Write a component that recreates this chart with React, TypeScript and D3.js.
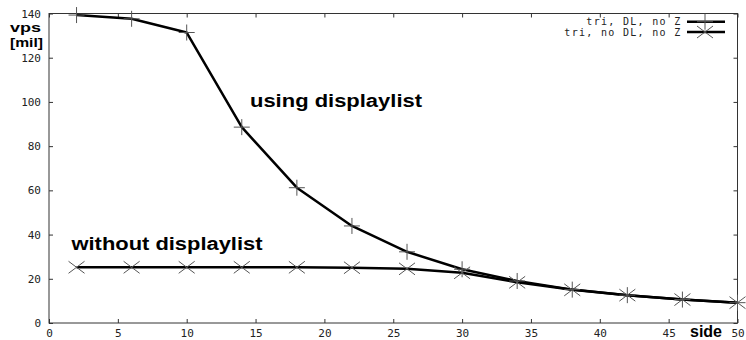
import React, { useEffect, useRef } from 'react';
import * as d3 from 'd3';

// side lengths (x) and vertices per second in millions (y)
const sides = [2, 6, 10, 14, 18, 22, 26, 30, 34, 38, 42, 46, 50];
const withDL = [139.3, 137.6, 131.4, 88.6, 61.2, 43.9, 32.2, 24.3, 19.0, 15.1, 12.6, 10.6, 9.2];
const withoutDL = [25.2, 25.2, 25.2, 25.2, 25.2, 25.0, 24.5, 22.7, 18.4, 15.0, 12.6, 10.6, 9.2];

const xTicks = [0, 5, 10, 15, 20, 25, 30, 35, 40, 45, 50];
const yTicks = [0, 20, 40, 60, 80, 100, 120, 140];
const seriesNames = ['tri, DL, no Z', 'tri, no DL, no Z'];

const W = 746;
const H = 340;

const App = () => {
  const ref = useRef<SVGSVGElement>(null);

  useEffect(() => {
    const svg = d3.select(ref.current);
    svg.selectAll('*').remove();

    const left = 49, right = 737.5, top = 13.5, bottom = 323;
    const x = d3.scaleLinear().domain([0, 50]).range([left, right]);
    const y = d3.scaleLinear().domain([0, 140]).range([bottom, top]);
    const mono = '"DejaVu Sans Mono", monospace';
    const sans = '"Liberation Sans", Arial, sans-serif';

    svg.append('rect').attr('width', W).attr('height', H).attr('fill', '#fff');

    const styleAxis = (g: any) => {
      g.select('.domain').remove();
      g.selectAll('line').attr('stroke', '#333');
      g.selectAll('text').attr('font-family', mono).attr('font-size', 11).attr('fill', '#222');
    };

    svg.append('g')
      .attr('transform', `translate(0,${bottom})`)
      .call(d3.axisBottom(x).tickValues(xTicks).tickSizeInner(-4).tickSizeOuter(0).tickPadding(6))
      .call(styleAxis);
    svg.append('g')
      .attr('transform', `translate(0,${top})`)
      .call(d3.axisTop(x).tickValues(xTicks).tickSizeInner(-4).tickSizeOuter(0).tickFormat(() => ''))
      .call(styleAxis);
    svg.append('g')
      .attr('transform', `translate(${left},0)`)
      .call(d3.axisLeft(y).tickValues(yTicks).tickSizeInner(-4).tickSizeOuter(0).tickPadding(8))
      .call(styleAxis);
    svg.append('g')
      .attr('transform', `translate(${right},0)`)
      .call(d3.axisRight(y).tickValues(yTicks).tickSizeInner(-4).tickSizeOuter(0).tickFormat(() => ''))
      .call(styleAxis);

    svg.append('rect')
      .attr('x', left).attr('y', top)
      .attr('width', right - left).attr('height', bottom - top)
      .attr('fill', 'none').attr('stroke', '#333').attr('stroke-width', 1);

    const line = d3.line<number>()
      .x((_, i) => x(sides[i]))
      .y(d => y(d));

    [withDL, withoutDL].forEach(vals => {
      svg.append('path')
        .datum(vals)
        .attr('fill', 'none')
        .attr('stroke', '#000')
        .attr('stroke-width', 2.5)
        .attr('stroke-linejoin', 'round')
        .attr('d', line);
    });

    const plus = (g: any, cx: number, cy: number) => {
      g.append('path')
        .attr('d', `M${cx - 8},${cy}H${cx + 8}M${cx},${cy - 8}V${cy + 8}`)
        .attr('stroke', '#555').attr('stroke-width', 1).attr('fill', 'none');
    };
    const cross = (g: any, cx: number, cy: number) => {
      g.append('path')
        .attr('d', `M${cx - 8},${cy - 6}L${cx + 8},${cy + 6}M${cx - 8},${cy + 6}L${cx + 8},${cy - 6}`)
        .attr('stroke', '#555').attr('stroke-width', 1).attr('fill', 'none');
    };

    const marks = svg.append('g');
    withDL.forEach((v, i) => plus(marks, x(sides[i]), y(v)));
    withoutDL.forEach((v, i) => cross(marks, x(sides[i]), y(v)));

    // legend
    const legend = svg.append('g');
    seriesNames.forEach((name, i) => {
      const ly = 21.7 + i * 10.3;
      legend.append('text')
        .attr('x', 681.5).attr('y', ly).attr('dy', '0.36em')
        .attr('text-anchor', 'end')
        .attr('font-family', mono).attr('font-size', 10)
        .attr('letter-spacing', 1.3).attr('fill', '#222')
        .text(name);
      legend.append('line')
        .attr('x1', 687).attr('x2', 725).attr('y1', ly).attr('y2', ly)
        .attr('stroke', '#000').attr('stroke-width', 2.5);
      if (i === 0) plus(legend, 705, ly);
      else cross(legend, 705, ly);
    });

    const label = (txt: string, lx: number, ly: number, size: number, len: number) => {
      svg.append('text')
        .attr('x', lx).attr('y', ly)
        .attr('font-family', sans).attr('font-weight', 'bold')
        .attr('font-size', size).attr('fill', '#000')
        .attr('textLength', len).attr('lengthAdjust', 'spacingAndGlyphs')
        .text(txt);
    };
    label('vps', 10, 32, 12.5, 31);
    label('[mil]', 10, 46.5, 13.5, 33);
    label('using displaylist', 250, 107, 18, 172);
    label('without displaylist', 71.5, 250, 18, 191);
    label('side', 690, 337, 16, 32);
  }, []);

  return (
    <svg
      ref={ref}
      width={W}
      height={H}
      style={{ position: 'absolute', left: 0, top: 0, display: 'block' }}
    />
  );
};

export default App;
